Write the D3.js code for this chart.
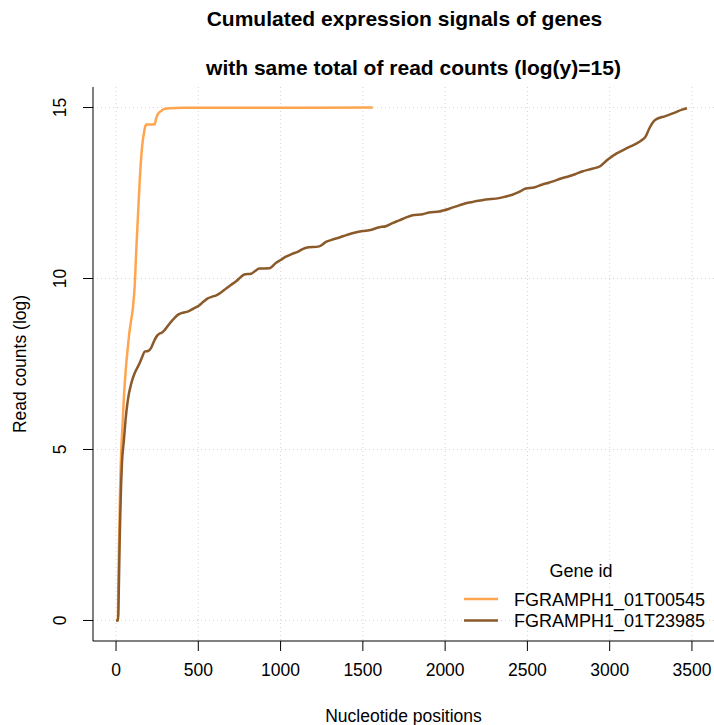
<!DOCTYPE html>
<html>
<head>
<meta charset="utf-8">
<script src="https://cdn.jsdelivr.net/npm/d3@7"></script>
<style>
  body { margin: 0; background: #fff; }
  text { font-family: "Liberation Sans", Arial, sans-serif; fill: #000; }
</style>
</head>
<body>
<svg width="714" height="725"></svg>
<script>
// Data
const geneIds = ["FGRAMPH1_01T00545", "FGRAMPH1_01T23985"];
const geneColors = ["#FFA54F", "#8B5A2B"];

const posA = [0, 11, 14, 20, 26, 32, 38, 48, 62, 72, 83, 89, 103, 113, 123, 133, 143, 153, 163, 169, 176, 184, 234, 244, 254, 275, 295, 330, 400, 800, 1200, 1560];
const valA = [0, 0, 1.2, 2.66, 4.11, 4.99, 5.57, 6.55, 7.5, 8.0, 8.49, 8.69, 9.17, 9.75, 10.83, 11.8, 12.77, 13.55, 14.05, 14.23, 14.42, 14.5, 14.5, 14.68, 14.81, 14.9, 14.96, 14.98, 14.99, 14.993, 14.996, 15.0];

const posB = [0, 12, 18, 22, 26, 31, 36, 48, 58, 72, 93, 113, 143, 160, 174, 194, 204, 214, 234, 250, 265, 280, 295, 320, 356, 380, 406, 436, 470, 507, 530, 558, 585, 609, 640, 669, 700, 730, 760, 780, 821, 845, 871, 932, 973, 1003, 1033, 1070, 1104, 1130, 1155, 1235, 1276, 1310, 1357, 1400, 1448, 1500, 1539, 1600, 1640, 1680, 1721, 1760, 1802, 1863, 1903, 1964, 2025, 2085, 2126, 2166, 2247, 2328, 2370, 2409, 2450, 2490, 2540, 2591, 2630, 2672, 2710, 2753, 2790, 2833, 2894, 2945, 2970, 2995, 3040, 3096, 3130, 3167, 3190, 3218, 3240, 3260, 3278, 3339, 3400, 3440, 3470];
const valB = [0, 0, 1.2, 2.3, 3.14, 4.0, 4.6, 5.28, 5.87, 6.45, 6.94, 7.23, 7.52, 7.72, 7.86, 7.88, 7.91, 7.98, 8.2, 8.33, 8.39, 8.42, 8.49, 8.65, 8.85, 8.95, 9.0, 9.03, 9.12, 9.22, 9.32, 9.42, 9.47, 9.51, 9.6, 9.71, 9.82, 9.92, 10.05, 10.12, 10.14, 10.22, 10.29, 10.3, 10.46, 10.55, 10.64, 10.72, 10.78, 10.85, 10.9, 10.94, 11.07, 11.13, 11.2, 11.27, 11.34, 11.39, 11.41, 11.5, 11.53, 11.62, 11.7, 11.78, 11.85, 11.88, 11.93, 11.96, 12.04, 12.14, 12.2, 12.24, 12.31, 12.35, 12.4, 12.45, 12.53, 12.63, 12.66, 12.75, 12.8, 12.87, 12.93, 12.99, 13.05, 13.13, 13.21, 13.29, 13.4, 13.5, 13.65, 13.79, 13.87, 13.96, 14.03, 14.15, 14.38, 14.55, 14.64, 14.75, 14.86, 14.94, 14.98];

const xTicks = [0, 500, 1000, 1500, 2000, 2500, 3000, 3500];
const yTicks = [0, 5, 10, 15];

const series = [
  {id: geneIds[0], color: geneColors[0], pts: posA.map((p, i) => [p, valA[i]])},
  {id: geneIds[1], color: geneColors[1], pts: posB.map((p, i) => [p, valB[i]])}
];

const svg = d3.select("svg");

// plot region
const pl = 93, pr = 714, pt = 87, pb = 641;
const fs = 17.5; // base text size

const x = d3.scaleLinear().domain([-140, 3634]).range([pl, pr]);
const y = d3.scaleLinear().domain([-0.6, 15.6]).range([pb, pt]);

// grid
const grid = svg.append("g")
  .attr("stroke", "#d3d3d3")
  .attr("stroke-width", 1)
  .attr("stroke-dasharray", "1,3");
grid.selectAll(".gx").data(xTicks).join("line").attr("class", "gx")
  .attr("x1", d => x(d)).attr("x2", d => x(d))
  .attr("y1", pt).attr("y2", pb);
grid.selectAll(".gy").data(yTicks).join("line").attr("class", "gy")
  .attr("x1", pl).attr("x2", pr)
  .attr("y1", d => y(d)).attr("y2", d => y(d));

// axes (L-shaped box)
svg.append("path")
  .attr("d", `M${pl},${pt}V${pb}H${pr}`)
  .attr("fill", "none").attr("stroke", "#000").attr("stroke-width", 1);

const xAxis = svg.append("g");
xAxis.selectAll("line").data(xTicks).join("line")
  .attr("x1", d => x(d)).attr("x2", d => x(d))
  .attr("y1", pb).attr("y2", pb + 10)
  .attr("stroke", "#000");
xAxis.selectAll("text").data(xTicks).join("text")
  .attr("x", d => x(d)).attr("y", 675.5)
  .attr("text-anchor", "middle")
  .attr("font-size", fs)
  .text(d => d);

const yAxis = svg.append("g");
yAxis.selectAll("line").data(yTicks).join("line")
  .attr("x1", pl - 10).attr("x2", pl)
  .attr("y1", d => y(d)).attr("y2", d => y(d))
  .attr("stroke", "#000");
yAxis.selectAll("text").data(yTicks).join("text")
  .attr("transform", d => `translate(66,${y(d)}) rotate(-90)`)
  .attr("text-anchor", "middle")
  .attr("font-size", fs)
  .text(d => d);

// curves
const line = d3.line()
  .x(d => x(d[0]))
  .y(d => y(d[1]))
  .curve(d3.curveMonotoneX);

svg.append("g").selectAll("path").data(series).join("path")
  .attr("d", d => line(d.pts))
  .attr("fill", "none")
  .attr("stroke", d => d.color)
  .attr("stroke-width", 2.5)
  .attr("stroke-linejoin", "round");

// titles
svg.append("text")
  .attr("x", (pl + pr) / 2 + 1).attr("y", 26)
  .attr("text-anchor", "middle")
  .attr("font-size", 21).attr("font-weight", "bold")
  .text("Cumulated expression signals of genes");
svg.append("text")
  .attr("x", (pl + pr) / 2 + 10).attr("y", 75)
  .attr("text-anchor", "middle")
  .attr("font-size", 21).attr("font-weight", "bold")
  .text("with same total of read counts (log(y)=15)");

svg.append("text")
  .attr("x", (pl + pr) / 2).attr("y", 722)
  .attr("text-anchor", "middle")
  .attr("font-size", fs)
  .text("Nucleotide positions");
svg.append("text")
  .attr("transform", `translate(26,${(pt + pb) / 2}) rotate(-90)`)
  .attr("text-anchor", "middle")
  .attr("font-size", fs)
  .text("Read counts (log)");

// legend
const legend = svg.append("g");
legend.append("text")
  .attr("x", 581).attr("y", 577)
  .attr("text-anchor", "middle")
  .attr("font-size", 18)
  .text("Gene id");
const items = legend.selectAll("g").data(series).join("g")
  .attr("transform", (d, i) => `translate(0,${599 + i * 21.5})`);
items.append("line")
  .attr("x1", 464).attr("x2", 498)
  .attr("stroke", d => d.color).attr("stroke-width", 2.5);
items.append("text")
  .attr("x", 514).attr("y", 6.5)
  .attr("font-size", 18)
  .text(d => d.id);
</script>
</body>
</html>
